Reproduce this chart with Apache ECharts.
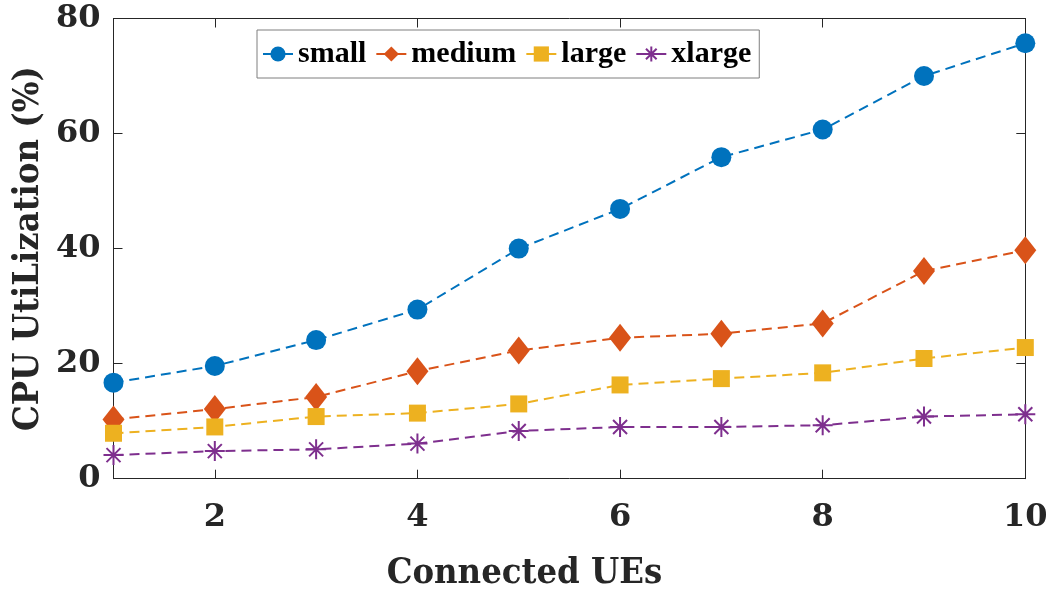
<!DOCTYPE html>
<html>
<head>
<meta charset="utf-8">
<script src="https://cdn.jsdelivr.net/npm/echarts@6/dist/echarts.min.js"></script>
<style>
  html, body { margin: 0; padding: 0; background: #fff; }
  #chart { width: 1051px; height: 594px; }
</style>
</head>
<body>
<div id="chart"></div>
<script>
// CPU utilization (%) against number of connected UEs, per instance size
const connectedUEs = [1, 2, 3, 4, 5, 6, 7, 8, 9, 10];
const smallCpu  = [16.7, 19.6, 24.1, 29.4, 40.0, 46.9, 55.9, 60.7, 70.0, 75.7];
const mediumCpu = [10.3, 12.1, 14.2, 18.7, 22.3, 24.5, 25.2, 27.0, 36.1, 39.7];
const largeCpu  = [7.9, 9.0, 10.8, 11.4, 13.0, 16.3, 17.4, 18.4, 20.9, 22.8];
const xlargeCpu = [4.1, 4.8, 5.1, 6.1, 8.3, 9.0, 9.0, 9.3, 10.8, 11.2];
const seriesNames = ['small', 'medium', 'large', 'xlarge'];
const xTickValues = [2, 4, 6, 8, 10];

const axisColor = '#262626';
const tickFont = 'DejaVu Serif';
const titleFont = '"DejaVu Serif Condensed", "DejaVu Serif"';
const asteriskPath = 'path://M0,10 L20,10 M10,0 L10,20 M3,3 L17,17 M17,3 L3,17';

function pairs(values) {
  return connectedUEs.map((x, i) => [x, values[i]]);
}

function lineSeries(name, values, color, symbol, size, extraItemStyle) {
  return {
    name: name,
    type: 'line',
    xAxisIndex: 0,
    yAxisIndex: 0,
    data: pairs(values),
    symbol: symbol,
    symbolSize: size,
    showAllSymbol: true,
    color: color,
    lineStyle: { color: color, width: 2, type: [10, 6] },
    itemStyle: Object.assign({ color: color, opacity: 1 }, extraItemStyle || {}),
    emphasis: { disabled: true },
    z: 3
  };
}

const chart = echarts.init(document.getElementById('chart'), null, { renderer: 'canvas' });

const hiddenTickAxis = {
  axisLine: { show: true, lineStyle: { color: axisColor, width: 1 } },
  axisTick: { show: true, inside: true, length: 9, lineStyle: { color: axisColor, width: 1 } },
  axisLabel: { show: false },
  splitLine: { show: false }
};

chart.setOption({
  animation: false,
  backgroundColor: '#ffffff',
  grid: { left: 113.5, right: 25.7, top: 18.5, bottom: 115.3, containLabel: false, outerBoundsMode: 'none' },
  legend: {
    data: seriesNames,
    left: 257,
    top: 30,
    orient: 'horizontal',
    itemWidth: 30,
    itemHeight: 19,
    itemGap: 9,
    padding: [9, 8, 9, 5],
    borderColor: '#7f7f7f',
    borderWidth: 1,
    backgroundColor: '#ffffff',
    lineStyle: { type: 'solid', width: 2 },
    textStyle: { fontFamily: 'Liberation Serif', fontWeight: 'bold', fontSize: 30, color: '#000000' },
    selectedMode: false
  },
  xAxis: [
    {
      type: 'value',
      position: 'bottom',
      min: 1,
      max: 10,
      name: 'Connected UEs',
      nameLocation: 'middle',
      nameGap: 77,
      nameMoveOverlap: false,
      nameTextStyle: { fontFamily: titleFont, fontWeight: 'bold', fontSize: 36, color: axisColor, padding: [0, 90, 0, 0] },
      axisLine: { show: true, onZero: false, lineStyle: { color: axisColor, width: 1 } },
      axisTick: { show: true, inside: true, length: 9, customValues: xTickValues, lineStyle: { color: axisColor, width: 1 } },
      axisLabel: { show: true, customValues: xTickValues, margin: 23, fontFamily: tickFont, fontWeight: 'bold', fontSize: 32, color: axisColor },
      splitLine: { show: false }
    },
    Object.assign({
      type: 'value',
      position: 'top',
      min: 1,
      max: 10
    }, hiddenTickAxis, {
      axisTick: { show: true, inside: true, length: 9, customValues: xTickValues, lineStyle: { color: axisColor, width: 1 } },
      axisLine: { show: true, onZero: false, lineStyle: { color: axisColor, width: 1 } }
    })
  ],
  yAxis: [
    {
      type: 'value',
      position: 'left',
      min: 0,
      max: 80,
      interval: 20,
      name: 'CPU UtiLization (%)',
      nameLocation: 'middle',
      nameGap: 67,
      nameMoveOverlap: false,
      nameTextStyle: { fontFamily: titleFont, fontWeight: 'bold', fontSize: 36, color: axisColor },
      axisLine: { show: true, onZero: false, lineStyle: { color: axisColor, width: 1 } },
      axisTick: { show: true, inside: true, length: 9, lineStyle: { color: axisColor, width: 1 } },
      axisLabel: { show: true, margin: 13, fontFamily: tickFont, fontWeight: 'bold', fontSize: 32, color: axisColor },
      splitLine: { show: false }
    },
    Object.assign({
      type: 'value',
      position: 'right',
      min: 0,
      max: 80,
      interval: 20
    }, hiddenTickAxis, {
      axisLine: { show: true, onZero: false, lineStyle: { color: axisColor, width: 1 } }
    })
  ],
  series: [
    lineSeries('small', smallCpu, '#0072BD', 'circle', 20),
    lineSeries('medium', mediumCpu, '#D95319', 'diamond', [22, 28]),
    lineSeries('large', largeCpu, '#EDB120', 'rect', 17),
    lineSeries('xlarge', xlargeCpu, '#7E2F8E', asteriskPath, 20, { borderColor: '#7E2F8E', borderWidth: 2 })
  ]
});
</script>
</body>
</html>
